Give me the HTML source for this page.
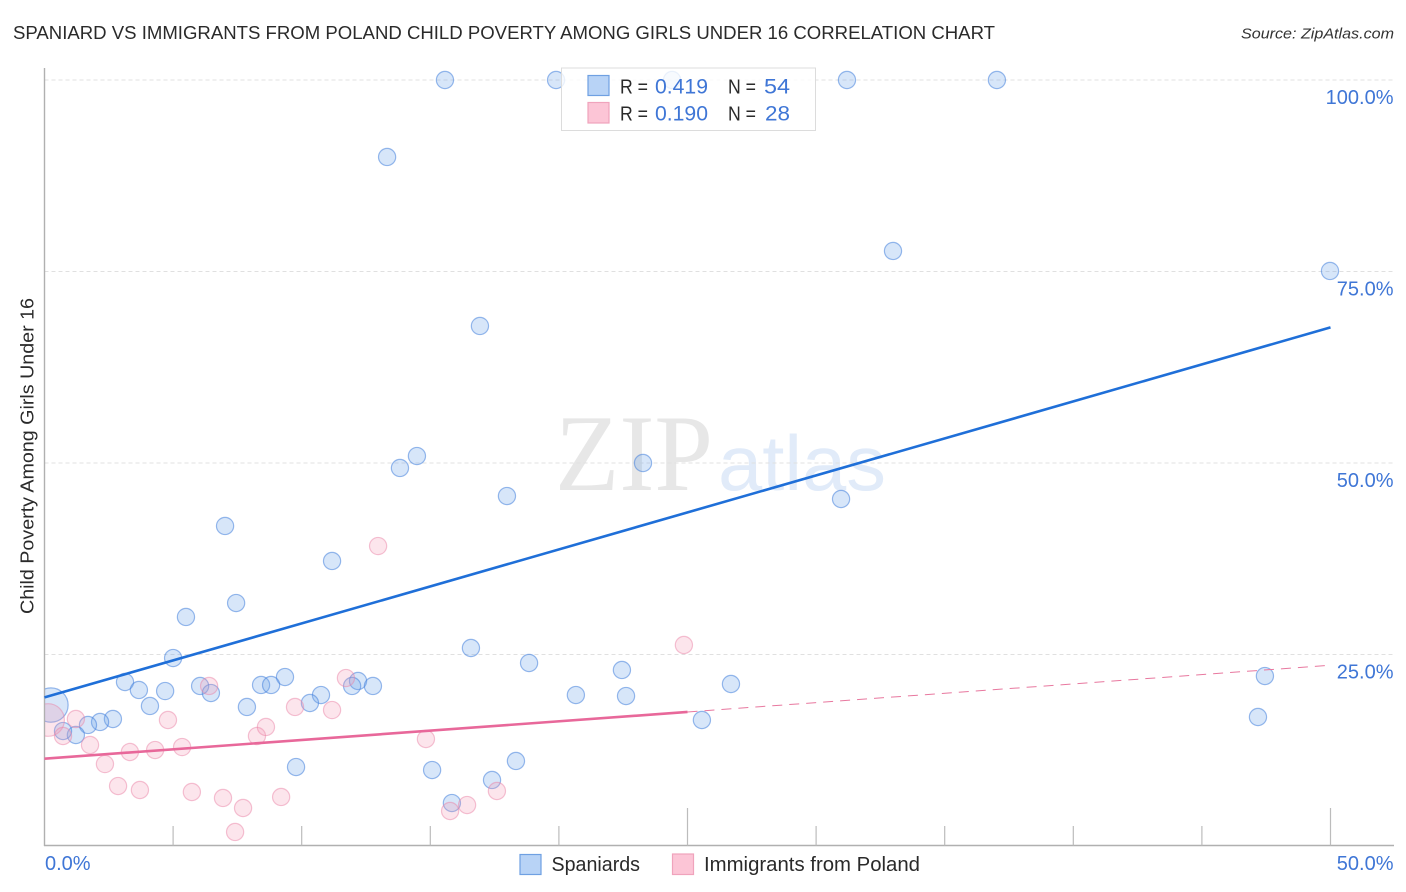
<!DOCTYPE html>
<html lang="en">
<head>
<meta charset="utf-8">
<title>Spaniard vs Immigrants from Poland Child Poverty Among Girls Under 16 Correlation Chart</title>
<style>
html,body{margin:0;padding:0;background:#fff;width:1406px;height:892px;overflow:hidden}
svg{display:block;font-family:"Liberation Sans",sans-serif}
</style>
</head>
<body>
<svg id="chart" xmlns="http://www.w3.org/2000/svg" width="1406" height="892" viewBox="0 0 1406 892">
  <defs><clipPath id="plot-clip"><rect x="45" y="60" width="1360" height="786"/></clipPath></defs>
  <rect x="0" y="0" width="1406" height="892" fill="#fff"/>
  <text x="13" y="39" font-size="18" fill="#2a2a2a" textLength="982" lengthAdjust="spacingAndGlyphs">SPANIARD VS IMMIGRANTS FROM POLAND CHILD POVERTY AMONG GIRLS UNDER 16 CORRELATION CHART</text>
  <text x="1241" y="38.500" font-size="15" font-style="italic" fill="#333" textLength="153" lengthAdjust="spacingAndGlyphs">Source: ZipAtlas.com</text>
  <text transform="translate(33.500,614) rotate(-90)" font-size="18" fill="#2a2a2a" textLength="316" lengthAdjust="spacingAndGlyphs">Child Poverty Among Girls Under 16</text>
  <text x="555" y="490" font-family="'Liberation Serif',serif" font-size="109" fill="#e7e7e7" textLength="158" lengthAdjust="spacingAndGlyphs">ZIP</text>
  <text x="718" y="490" font-size="78" fill="#e1ebf9" textLength="168" lengthAdjust="spacingAndGlyphs">atlas</text>
  <g id="grid"></g>
  <g id="axes"></g>
  <g id="points" clip-path="url(#plot-clip)"></g>
  <g id="lines"></g>
  <g id="ticklabels"></g>

  <g font-size="20" fill="#2a2a2a">
    <rect x="561.500" y="68" width="254" height="62.500" fill="#fff" fill-opacity="0.8" stroke="#dcdcdc" stroke-width="1"/>
    <rect x="588" y="75.500" width="21" height="20" fill="#b8d3f6" stroke="#6fa0e2" stroke-width="1.200"/>
    <rect x="588" y="102.500" width="21" height="20.500" fill="#fcc5d6" stroke="#f0a3bc" stroke-width="1.200"/>
    <text x="620" y="93.500" textLength="28" lengthAdjust="spacingAndGlyphs">R =</text>
    <text x="655" y="93.500" fill="#3f76d6" font-size="21" textLength="53" lengthAdjust="spacingAndGlyphs">0.419</text>
    <text x="728" y="93.500" textLength="28" lengthAdjust="spacingAndGlyphs">N =</text>
    <text x="764" y="93.500" fill="#3f76d6" font-size="21" textLength="26" lengthAdjust="spacingAndGlyphs">54</text>
    <text x="620" y="120.500" textLength="28" lengthAdjust="spacingAndGlyphs">R =</text>
    <text x="655" y="120.500" fill="#3f76d6" font-size="21" textLength="53" lengthAdjust="spacingAndGlyphs">0.190</text>
    <text x="728" y="120.500" textLength="28" lengthAdjust="spacingAndGlyphs">N =</text>
    <text x="765" y="120.500" fill="#3f76d6" font-size="21" textLength="25" lengthAdjust="spacingAndGlyphs">28</text>
  </g>

  <g font-size="20" fill="#2a2a2a">
    <rect x="520" y="854.500" width="21" height="20" fill="#b8d3f6" stroke="#6fa0e2" stroke-width="1.200"/>
    <text x="551.500" y="871" textLength="88.500" lengthAdjust="spacingAndGlyphs">Spaniards</text>
    <rect x="672.500" y="854" width="21" height="20.500" fill="#fcc5d6" stroke="#f0a3bc" stroke-width="1.200"/>
    <text x="704" y="871" textLength="216" lengthAdjust="spacingAndGlyphs">Immigrants from Poland</text>
  </g>
</svg>
<script>
// ---- chart data (percent values) ----
const spaniardX = [0.25,15.57,19.89,24.4,31.2,37.03,13.32,32.99,49.98,16.93,14.48,13.82,23.27,17.98,30.97,7.02,11.18,7.45,5.5,16.58,5.0,18.84,22.45,9.35,3.13,3.67,4.69,6.05,6.47,8.42,8.81,12.19,11.96,12.77,10.75,10.32,7.87,4.1,26.69,20.66,22.61,47.45,47.18,25.56,2.66,2.16,1.69,1.22,0.72,9.78,15.07,18.33,17.4,15.84];
const spaniardY = [18.4,100,100,100,100,100,89.95,77.68,75.07,67.89,50.91,49.35,50.0,45.69,45.3,41.78,37.21,31.72,29.9,25.85,24.54,23.89,22.98,22.06,21.41,20.37,20.23,20.89,19.97,21.02,21.02,21.54,20.89,20.89,19.71,18.67,18.15,18.28,21.15,19.71,19.58,22.19,16.84,16.45,16.58,16.19,15.8,14.49,15.01,10.31,9.92,11.1,8.62,5.61];
const spaniardWeight = [4,1,1,1,1,1,1,1,1,1,1,1,1,1,1,1,1,1,1,1,1,1,1,1,1,1,1,1,1,1,1,1,1,1,1,1,1,1,1,1,1,1,1,1,1,1,1,1,1,1,1,1,1,1];
const immigrantX = [0.14,1.22,0.72,1.77,2.35,3.32,4.3,5.35,4.8,2.86,3.71,5.73,6.94,7.72,7.41,9.2,8.26,8.61,9.74,11.18,6.4,11.72,12.97,14.83,17.59,16.43,15.77,24.86];
const immigrantY = [16.45,16.58,14.36,13.19,10.7,12.27,12.53,12.92,16.45,7.83,7.31,7.05,6.27,4.96,1.83,6.4,14.36,15.54,18.15,17.75,20.89,21.93,39.16,13.97,7.18,5.35,4.57,26.24];
const immigrantWeight = [3.6,1,1,1,1,1,1,1,1,1,1,1,1,1,1,1,1,1,1,1,1,1,1,1,1,1,1,1];
const spaniardTrend = [19.4,67.7];        // fitted value at x = 0% and x = 50%
const immigrantTrend = [11.4,23.6];       // fitted value at x = 0% and x = 50%
const immigrantSolidEnd = 25;             // x value where observed range ends
const yTickValues = [25,50,75,100];
const yTickLabels = ["25.0%","50.0%","75.0%","100.0%"];
const xEdgeValues = [0,50];
const xEdgeLabels = ["0.0%","50.0%"];
const xTickValues = [5,10,15,20,25,30,35,40,45,50];
const xMajorTicks = [25,50];

// ---- axis functions ----
const NS = "http://www.w3.org/2000/svg";
function xScale(v){ return 44.5 + v * 25.72; }
function yScale(v){ return 846 - v * 7.66; }
function radius(w){ return 8.6 * Math.sqrt(w); }
function mk(tag, parent, attrs){
  const el = document.createElementNS(NS, tag);
  for (const k in attrs) el.setAttribute(k, attrs[k]);
  parent.appendChild(el);
  return el;
}

// gridlines
const gridG = document.getElementById("grid");
yTickValues.forEach(function(v){
  const g = mk("line", gridG, {x1:44.5, x2:1394, y1:yScale(v), y2:yScale(v), stroke:"#e0e0e0", "stroke-width":1, "stroke-dasharray":"4 3"});
  
  
});

// axes
const axesG = document.getElementById("axes");
const yAxis = mk("line", axesG, {x1:44.5, x2:44.5, y1:68, y2:846, stroke:"#b0b0b0", "stroke-width":1.4});


const xAxis = mk("line", axesG, {x1:44, x2:1394, y1:845.5, y2:845.5, stroke:"#b0b0b0", "stroke-width":1.4});


xTickValues.forEach(function(v){
  const major = xMajorTicks.indexOf(v) >= 0;
  const t = mk("line", axesG, {x1:xScale(v), x2:xScale(v), y1:major ? 808 : 826, y2:845.5, stroke:"#bcbcbc", "stroke-width":1.2});
  
  
});

// points
const pointsG = document.getElementById("points");
function drawSeries(xs, ys, ws, fill, stroke, name){
  xs.forEach(function(x, i){
    const c = mk("circle", pointsG, {cx:xScale(x), cy:yScale(ys[i]), r:radius(ws[i]), fill:fill, stroke:stroke, "stroke-width":1.2});
    
    
  });
}
drawSeries(spaniardX, spaniardY, spaniardWeight, "rgba(110,165,235,0.28)", "rgba(70,130,220,0.55)", "spaniard");
drawSeries(immigrantX, immigrantY, immigrantWeight, "rgba(245,150,180,0.25)", "rgba(235,130,165,0.48)", "immigrant");

// trend lines
const linesG = document.getElementById("lines");
function trendAt(tr, x){ return tr[0] + (tr[1] - tr[0]) * x / 50; }
const blueLine = mk("line", linesG, {x1:xScale(0), y1:yScale(trendAt(spaniardTrend,0)), x2:xScale(50), y2:yScale(trendAt(spaniardTrend,50)), stroke:"#1f6fd8", "stroke-width":2.6});


const pinkLine = mk("line", linesG, {x1:xScale(0), y1:yScale(trendAt(immigrantTrend,0)), x2:xScale(immigrantSolidEnd), y2:yScale(trendAt(immigrantTrend,immigrantSolidEnd)), stroke:"#e8689a", "stroke-width":2.6});


const pinkDash = mk("line", linesG, {x1:xScale(immigrantSolidEnd), y1:yScale(trendAt(immigrantTrend,immigrantSolidEnd)), x2:xScale(50), y2:yScale(trendAt(immigrantTrend,50)), stroke:"#e8789f", "stroke-width":1, "stroke-dasharray":"10 7"});



// tick labels
const labelsG = document.getElementById("ticklabels");
yTickValues.forEach(function(v, i){
  const t = mk("text", labelsG, {x:1393.5, y:yScale(v) + 24, "text-anchor":"end", "font-size":20, fill:"#3f76d6"});
  t.textContent = yTickLabels[i];
  
  
});
xEdgeValues.forEach(function(v, i){
  const t = mk("text", labelsG, {x:v === 0 ? 45 : 1393.5, y:870, "text-anchor":v === 0 ? "start" : "end", "font-size":20, fill:"#3f76d6"});
  t.textContent = xEdgeLabels[i];
  
  
});
</script>
</body>
</html>
